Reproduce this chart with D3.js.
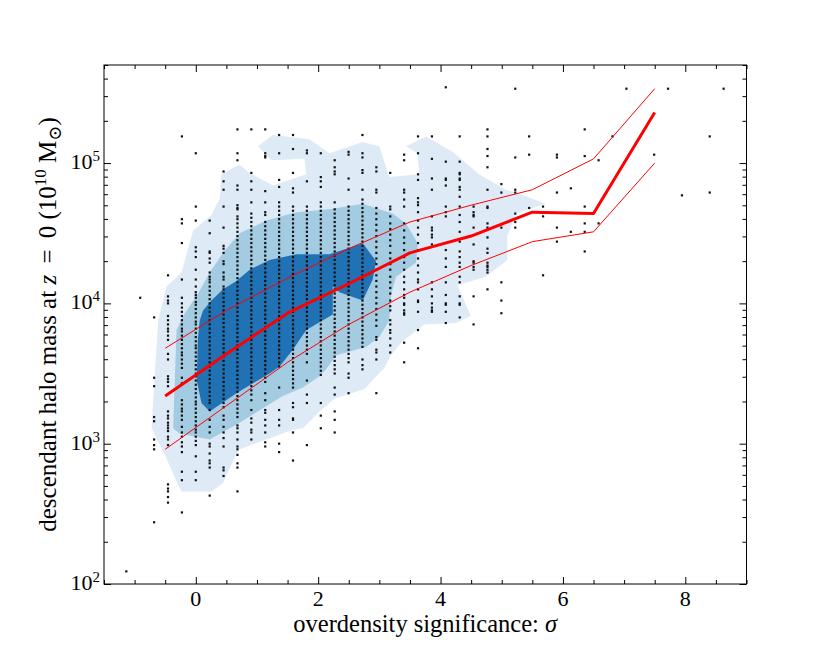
<!DOCTYPE html>
<html>
<head>
<meta charset="utf-8">
<script src="https://cdn.jsdelivr.net/npm/d3@7"></script>
<style>
    body { margin: 0; background: #fff; }
    text { font-family: "Liberation Serif", "DejaVu Serif", serif; fill: #000; }
</style>
</head>
<body>
<div id="chart"></div>
<script>
const CHART_WIDTH = 830;
const CHART_HEIGHT = 650;
const PLOT = { left: 104, right: 746.5, top: 65, bottom: 584 };

// x position of each column of haloes (overdensity significance)
const scatterSigma = [
    -1.135, -0.908, -0.681, -0.454, -0.227, 0, 0.227, 0.454, 0.681, 0.908,
    1.135, 1.362, 1.589, 1.816, 2.043, 2.270, 2.497, 2.724, 2.951, 3.178,
    3.405, 3.632, 3.859, 4.086, 4.313, 4.540, 4.767, 4.994, 5.221, 5.448,
    5.675, 5.902, 6.129, 6.356, 6.583, 6.810, 7.037, 7.491, 7.718, 7.945,
    8.399, 8.626
];

// log10 descendant mass (1e10 Msun) of the haloes in each column
const scatterLogMass = [
    [2.09],
    [4.04],
    [3.90, 3.47, 3.41, 3.19, 3.16, 3.03, 2.99, 2.96, 2.44],
    [4.20, 4.05, 4.02, 4.00, 3.91, 3.88, 3.85, 3.82, 3.80, 3.77, 3.74, 3.64, 3.60, 3.48, 3.46, 3.44, 3.41,
     3.23, 3.20, 3.18, 3.15, 3.13, 3.11, 3.09, 3.05, 3.03, 2.99, 2.71, 2.68, 2.66, 2.62, 2.58],
    [5.19, 4.60, 4.57, 4.43, 4.17, 4.04, 4.00, 3.97, 3.94, 3.91, 3.88, 3.85, 3.82, 3.80, 3.77, 3.74, 3.71,
     3.68, 3.65, 3.63, 3.60, 3.57, 3.54, 3.47, 3.43, 3.31, 3.28, 3.25, 3.23, 3.20, 3.17, 3.12, 3.08, 3.05,
     3.01, 2.98, 2.94, 2.80, 2.74, 2.51],
    [5.07, 4.69, 4.59, 4.40, 4.37, 4.33, 4.24, 4.17, 4.12, 4.08, 4.06, 4.04, 4.01, 3.99, 3.96, 3.93, 3.90,
     3.87, 3.85, 3.82, 3.79, 3.76, 3.73, 3.70, 3.68, 3.65, 3.62, 3.59, 3.56, 3.53, 3.50, 3.48, 3.45, 3.42,
     3.39, 3.36, 3.33, 3.30, 3.28, 3.25, 3.22, 3.19, 3.16, 3.13, 3.10, 3.08, 3.05, 3.02, 2.99, 2.91, 2.80, 2.74],
    [4.59, 4.50, 4.37, 4.36, 4.32, 4.29, 4.22, 4.19, 4.17, 4.15, 4.12, 4.09, 4.06, 4.03, 4.00, 3.97, 3.94,
     3.91, 3.88, 3.85, 3.82, 3.79, 3.76, 3.73, 3.70, 3.67, 3.64, 3.61, 3.58, 3.55, 3.52, 3.49, 3.46, 3.43,
     3.40, 3.37, 3.34, 3.31, 3.29, 3.24, 3.17, 3.12, 3.08, 3.00, 2.98, 2.93, 2.88, 2.86, 2.83, 2.63],
    [4.94, 4.87, 4.81, 4.69, 4.54, 4.41, 4.39, 4.36, 4.30, 4.28, 4.22, 4.19, 4.17, 4.12, 4.10, 4.07, 4.04,
     4.01, 3.98, 3.95, 3.92, 3.89, 3.86, 3.83, 3.80, 3.77, 3.74, 3.71, 3.68, 3.65, 3.62, 3.59, 3.56, 3.53,
     3.50, 3.47, 3.44, 3.41, 3.38, 3.35, 3.32, 3.29, 3.26, 3.20, 3.17, 3.12, 3.08, 3.04, 2.98, 2.83, 2.81, 2.77],
    [5.24, 5.07, 5.02, 4.84, 4.81, 4.70, 4.68, 4.67, 4.62, 4.60, 4.57, 4.54, 4.51, 4.48, 4.45, 4.42, 4.39,
     4.36, 4.33, 4.30, 4.27, 4.24, 4.21, 4.18, 4.15, 4.12, 4.09, 4.06, 4.03, 4.00, 3.97, 3.94, 3.91, 3.88,
     3.85, 3.82, 3.79, 3.76, 3.73, 3.70, 3.67, 3.64, 3.61, 3.58, 3.55, 3.52, 3.49, 3.46, 3.43, 3.40, 3.37,
     3.34, 3.31, 3.28, 3.25, 3.22, 3.19, 3.13, 3.11, 3.08, 3.03, 2.98, 2.96, 2.92, 2.86, 2.83, 2.66],
    [5.24, 4.93, 4.87, 4.81, 4.72, 4.64, 4.61, 4.58, 4.55, 4.52, 4.49, 4.46, 4.43, 4.40, 4.37, 4.34, 4.31,
     4.28, 4.25, 4.22, 4.19, 4.16, 4.13, 4.10, 4.07, 4.04, 4.01, 3.98, 3.95, 3.92, 3.89, 3.86, 3.83, 3.80,
     3.77, 3.74, 3.71, 3.68, 3.65, 3.62, 3.59, 3.56, 3.53, 3.50, 3.47, 3.44, 3.41, 3.38, 3.35, 3.31, 3.24,
     3.18, 3.15, 3.10, 3.08, 3.03],
    [5.24, 5.07, 5.05, 5.04, 4.80, 4.72, 4.65, 4.63, 4.58, 4.55, 4.52, 4.49, 4.46, 4.43, 4.40, 4.37, 4.34,
     4.31, 4.28, 4.25, 4.22, 4.19, 4.16, 4.13, 4.10, 4.07, 4.04, 4.01, 3.98, 3.95, 3.92, 3.89, 3.86, 3.83,
     3.80, 3.77, 3.74, 3.71, 3.68, 3.65, 3.62, 3.59, 3.56, 3.53, 3.50, 3.47, 3.44, 3.36, 3.31, 3.24, 3.22,
     3.17, 3.13, 3.08, 3.01, 2.98],
    [5.20, 5.07, 4.88, 4.83, 4.72, 4.69, 4.66, 4.63, 4.60, 4.57, 4.54, 4.51, 4.48, 4.45, 4.42, 4.39, 4.36,
     4.33, 4.30, 4.27, 4.24, 4.21, 4.18, 4.15, 4.12, 4.09, 4.06, 4.03, 4.00, 3.97, 3.94, 3.91, 3.88, 3.85,
     3.82, 3.79, 3.76, 3.73, 3.70, 3.67, 3.64, 3.61, 3.58, 3.55, 3.40, 3.24, 3.17, 3.13, 3.00, 2.94],
    [5.20, 5.10, 4.93, 4.82, 4.79, 4.69, 4.66, 4.63, 4.60, 4.57, 4.54, 4.51, 4.48, 4.45, 4.42, 4.39, 4.36,
     4.33, 4.30, 4.27, 4.24, 4.21, 4.18, 4.15, 4.12, 4.09, 4.06, 4.03, 4.00, 3.97, 3.94, 3.91, 3.88, 3.85,
     3.82, 3.79, 3.76, 3.73, 3.70, 3.67, 3.64, 3.61, 3.58, 3.55, 3.52, 3.49, 3.46, 3.43, 3.40, 3.29, 3.26,
     3.18, 3.17, 3.08, 2.88],
    [5.09, 5.07, 4.87, 4.69, 4.66, 4.63, 4.60, 4.57, 4.54, 4.51, 4.48, 4.45, 4.42, 4.39, 4.36, 4.33, 4.30,
     4.27, 4.24, 4.21, 4.18, 4.15, 4.12, 4.09, 4.06, 4.03, 4.00, 3.97, 3.94, 3.91, 3.88, 3.85, 3.82, 3.79,
     3.76, 3.73, 3.70, 3.67, 3.64, 3.58, 3.45, 3.35, 3.29, 2.99],
    [5.07, 4.90, 4.87, 4.83, 4.72, 4.69, 4.66, 4.63, 4.60, 4.57, 4.54, 4.51, 4.48, 4.45, 4.42, 4.39, 4.36,
     4.33, 4.30, 4.27, 4.24, 4.21, 4.18, 4.15, 4.12, 4.09, 4.06, 4.03, 4.00, 3.97, 3.94, 3.91, 3.88, 3.85,
     3.82, 3.79, 3.76, 3.73, 3.70, 3.67, 3.64, 3.61, 3.58, 3.55, 3.52, 3.49, 3.29, 3.20, 3.11],
    [5.02, 4.97, 4.94, 4.92, 4.72, 4.67, 4.64, 4.61, 4.58, 4.55, 4.52, 4.49, 4.46, 4.43, 4.40, 4.37, 4.34,
     4.31, 4.28, 4.25, 4.22, 4.19, 4.16, 4.13, 4.10, 4.07, 4.04, 4.01, 3.98, 3.95, 3.92, 3.89, 3.86, 3.83,
     3.80, 3.77, 3.74, 3.71, 3.68, 3.65, 3.62, 3.59, 3.56, 3.53, 3.50, 3.40, 3.35, 3.23, 3.17, 3.08],
    [5.08, 5.06, 4.89, 4.81, 4.69, 4.66, 4.63, 4.60, 4.57, 4.54, 4.51, 4.48, 4.45, 4.42, 4.39, 4.36, 4.33,
     4.30, 4.27, 4.24, 4.21, 4.18, 4.15, 4.12, 4.09, 4.06, 4.03, 4.00, 3.97, 3.94, 3.91, 3.88, 3.85, 3.82,
     3.79, 3.76, 3.73, 3.70, 3.67, 3.64, 3.61, 3.58, 3.50, 3.47, 3.36],
    [5.20, 5.07, 5.04, 4.95, 4.93, 4.81, 4.74, 4.71, 4.68, 4.65, 4.62, 4.59, 4.56, 4.53, 4.50, 4.47, 4.44,
     4.41, 4.38, 4.35, 4.32, 4.29, 4.26, 4.23, 4.20, 4.17, 4.14, 4.11, 4.08, 4.05, 4.02, 3.99, 3.96, 3.93,
     3.90, 3.87, 3.84, 3.81, 3.78, 3.75, 3.72, 3.69, 3.60, 3.56, 3.53],
    [4.97, 4.94, 4.81, 4.79, 4.68, 4.64, 4.60, 4.56, 4.52, 4.48, 4.44, 4.40, 4.36, 4.32, 4.28, 4.24, 4.20,
     4.16, 4.12, 4.08, 4.04, 4.00, 3.96, 3.92, 3.88, 3.84, 3.76, 3.74, 3.67, 3.65, 3.60, 3.36],
    [4.93, 4.69, 4.67, 4.62, 4.57, 4.53, 4.49, 4.45, 4.41, 4.36, 4.32, 4.28, 4.24, 4.19, 4.15, 4.11, 4.07,
     4.02, 3.98, 3.95, 3.88, 3.85, 3.81, 3.79, 3.75, 3.70, 3.65],
    [5.06, 5.02, 4.81, 4.79, 4.74, 4.69, 4.57, 4.52, 4.47, 4.43, 4.38, 4.33, 4.29, 4.24, 4.19, 4.15, 4.10,
     4.06, 4.04, 4.00, 3.99, 3.95, 3.93, 3.92, 3.72, 3.58],
    [5.19, 5.07, 4.92, 4.88, 4.75, 4.72, 4.70, 4.65, 4.59, 4.54, 4.49, 4.43, 4.38, 4.32, 4.27, 4.22, 4.17,
     4.15, 4.10, 4.02, 4.01, 3.94, 3.81, 3.68],
    [5.19, 5.03, 4.89, 4.81, 4.62, 4.54, 4.52, 4.49, 4.47, 4.42, 4.15, 4.10, 4.05, 4.00, 3.97, 3.95, 3.94],
    [5.54, 5.01, 4.89, 4.88, 4.84, 4.69, 4.65, 4.62, 4.38, 4.32, 4.26, 4.15, 4.06, 4.00, 3.99, 3.94, 3.86],
    [5.19, 5.01, 4.93, 4.92, 4.89, 4.88, 4.83, 4.81, 4.76, 4.69, 4.63, 4.58, 4.51, 4.44, 4.37, 4.33, 4.29,
     4.26, 4.19, 4.15, 4.05, 4.00, 3.99, 3.90],
    [4.69, 4.65, 4.63, 4.62, 4.54, 4.42, 4.30, 4.29, 4.26, 4.24, 4.05, 3.85],
    [5.24, 5.19, 5.10, 5.05, 4.97, 4.81, 4.69, 4.68, 4.57, 4.54, 4.47, 4.39, 4.36, 4.29, 4.27, 4.26, 4.24,
     4.22, 4.10],
    [4.85, 4.79, 4.54, 4.15, 4.02, 3.93],
    [5.53, 5.04, 4.81, 4.79, 4.64, 4.58, 4.54],
    [5.19, 5.06, 4.68],
    [4.69, 4.62, 4.20],
    [5.06, 5.04, 4.79, 4.54, 4.44],
    [4.82, 4.51],
    [5.24, 5.05, 4.69, 4.57, 4.51, 4.37],
    [5.02, 4.57],
    [5.19],
    [5.53],
    [5.06],
    [5.53],
    [4.77],
    [5.19, 4.79],
    [5.53]
];

// binned statistics of log10 mass
const binSigma = [-0.5, 0.5, 1.5, 2.5, 3.5, 4.5, 5.5, 6.5, 7.5];
const medianLogMass = [3.34, 3.64, 3.93, 4.14, 4.36, 4.48, 4.65, 4.64, 5.36];
const upperLogMass = [3.68, 3.95, 4.18, 4.39, 4.58, 4.70, 4.81, 5.03, 5.53];
const lowerLogMass = [2.96, 3.27, 3.58, 3.85, 4.08, 4.27, 4.44, 4.51, 5.00];

// density contour outlines, [sigma, log10 mass]
const contourOuter = [
    [-0.615, 3.88], [-0.478, 4.12], [-0.233, 4.22], [-0.044, 4.52], [0.256, 4.63], [0.391, 4.75],
    [0.419, 4.92], [0.717, 4.99], [0.880, 4.93], [1.260, 4.84], [1.805, 4.92], [1.777, 5.03],
    [1.234, 5.02], [1.016, 5.12], [1.260, 5.20], [1.859, 5.17], [2.185, 5.07], [2.728, 5.15],
    [3.000, 5.12], [3.163, 4.90], [3.652, 4.92], [3.620, 5.07], [3.436, 5.12], [3.762, 5.19],
    [4.195, 5.08], [4.631, 4.92], [5.066, 4.81], [5.229, 4.79], [5.718, 4.71], [5.229, 4.64],
    [5.092, 4.48], [5.092, 4.31], [4.740, 4.19], [4.277, 4.13], [4.495, 3.91], [4.251, 3.86],
    [3.734, 3.85], [3.380, 3.73], [3.191, 3.63], [3.082, 3.54], [2.756, 3.39], [2.266, 3.32],
    [2.022, 3.23], [1.750, 3.11], [1.586, 3.10], [0.717, 2.96], [0.664, 2.93], [0.445, 2.72],
    [0.256, 2.66], [-0.233, 2.66], [-0.315, 2.73], [-0.505, 2.92], [-0.722, 3.11], [-0.696, 3.31]
];
const contourMiddle = [
    [-0.315, 3.81], [-0.207, 3.91], [0.038, 4.07], [0.228, 4.22], [0.445, 4.36], [0.717, 4.50],
    [1.153, 4.59], [1.642, 4.65], [2.185, 4.67], [2.728, 4.71], [3.217, 4.64], [3.436, 4.57],
    [3.599, 4.45], [3.625, 4.42], [3.599, 4.29], [3.272, 4.19], [3.191, 4.06], [3.163, 3.88],
    [3.000, 3.76], [2.783, 3.69], [2.294, 3.63], [2.131, 3.53], [2.022, 3.48], [1.750, 3.40],
    [1.423, 3.34], [0.717, 3.15], [0.228, 3.03], [-0.261, 3.07], [-0.370, 3.11]
];
const contourInner = [
    [0.065, 3.88], [0.119, 3.95], [0.256, 4.02], [0.445, 4.10], [0.664, 4.16], [0.880, 4.24],
    [1.207, 4.31], [1.642, 4.35], [2.185, 4.35], [2.674, 4.42], [2.728, 4.43], [2.946, 4.30],
    [2.891, 4.17], [2.728, 4.02], [2.348, 4.08], [2.239, 4.12], [2.239, 3.92], [1.805, 3.81],
    [1.586, 3.67], [1.370, 3.55], [1.207, 3.50], [0.664, 3.36], [0.228, 3.23], [0.093, 3.29],
    [0.016, 3.45], [0.033, 3.74]
];

const xMajorTicks = [0, 2, 4, 6, 8];
const xTickLabels = ['0', '2', '4', '6', '8'];
const yMajorTicks = [1e2, 1e3, 1e4, 1e5];
const yTickExponents = ['2', '3', '4', '5'];

// Create SVG Element
const svg = d3.select('#chart')
    .append('svg')
    .attr('width', CHART_WIDTH)
    .attr('height', CHART_HEIGHT);

// Create Scales
const xScale = d3.scaleLinear()
    .domain([-1.5, 9])
    .range([PLOT.left, PLOT.right]);

const yScale = d3.scaleLog()
    .domain([1e2, 5e5])
    .range([PLOT.bottom, PLOT.top]);

svg.append('clipPath')
    .attr('id', 'plot-clip')
    .append('rect')
    .attr('x', PLOT.left)
    .attr('y', PLOT.top)
    .attr('width', PLOT.right - PLOT.left)
    .attr('height', PLOT.bottom - PLOT.top);

const plot = svg.append('g').attr('clip-path', 'url(#plot-clip)');

// Contours
const contourLine = d3.line()
    .x(d => xScale(d[0]))
    .y(d => yScale(Math.pow(10, d[1])))
    .curve(d3.curveLinearClosed);

[
    { pts: contourOuter, color: '#deebf7' },
    { pts: contourMiddle, color: '#a3cce2' },
    { pts: contourInner, color: '#2171b5' }
].forEach(c => {
    plot.append('path')
        .attr('d', contourLine(c.pts))
        .attr('fill', c.color);
});

// Scatter points
const points = [];
scatterSigma.forEach((s, i) => {
    scatterLogMass[i].forEach(v => points.push({ sigma: s, mass: Math.pow(10, v) }));
});

plot.selectAll('rect.pt')
    .data(points)
    .enter()
    .append('rect')
    .attr('class', 'pt')
    .attr('x', d => xScale(d.sigma) - 1.1)
    .attr('y', d => yScale(d.mass) - 1.1)
    .attr('width', 2.2)
    .attr('height', 2.2)
    .attr('fill', '#111');

// Median and percentile lines
const statLine = d3.line()
    .x((d, i) => xScale(binSigma[i]))
    .y(d => yScale(Math.pow(10, d)));

[
    { vals: lowerLogMass, w: 1 },
    { vals: upperLogMass, w: 1 },
    { vals: medianLogMass, w: 3 }
].forEach(l => {
    plot.append('path')
        .attr('d', statLine(l.vals))
        .attr('fill', 'none')
        .attr('stroke', '#ff0000')
        .attr('stroke-width', l.w)
        .attr('stroke-linejoin', 'round');
});

// Ticks
const xMinorTicks = d3.range(-1.5, 9.01, 0.5).filter(v => !xMajorTicks.includes(v));
const yMinorTicks = yScale.ticks().filter(v => !yMajorTicks.includes(v));

function addAxis(axis, transform) {
    const g = svg.append('g').attr('transform', transform).call(axis);
    g.select('.domain').remove();
    g.selectAll('line').attr('stroke', '#000').attr('stroke-width', 1);
    g.selectAll('text').remove();
}

const atBottom = 'translate(0,' + PLOT.bottom + ')';
const atTop = 'translate(0,' + PLOT.top + ')';
const atLeft = 'translate(' + PLOT.left + ',0)';
const atRight = 'translate(' + PLOT.right + ',0)';

addAxis(d3.axisBottom(xScale).tickValues(xMajorTicks).tickSize(-7), atBottom);
addAxis(d3.axisBottom(xScale).tickValues(xMinorTicks).tickSize(-4), atBottom);
addAxis(d3.axisTop(xScale).tickValues(xMajorTicks).tickSize(-7), atTop);
addAxis(d3.axisTop(xScale).tickValues(xMinorTicks).tickSize(-4), atTop);
addAxis(d3.axisLeft(yScale).tickValues(yMajorTicks).tickSize(-7), atLeft);
addAxis(d3.axisLeft(yScale).tickValues(yMinorTicks).tickSize(-4), atLeft);
addAxis(d3.axisRight(yScale).tickValues(yMajorTicks).tickSize(-7), atRight);
addAxis(d3.axisRight(yScale).tickValues(yMinorTicks).tickSize(-4), atRight);

// Frame
svg.append('rect')
    .attr('x', PLOT.left)
    .attr('y', PLOT.top)
    .attr('width', PLOT.right - PLOT.left)
    .attr('height', PLOT.bottom - PLOT.top)
    .attr('fill', 'none')
    .attr('stroke', '#000')
    .attr('stroke-width', 1);

// Tick labels
svg.selectAll('text.xtick')
    .data(xMajorTicks)
    .enter()
    .append('text')
    .attr('class', 'xtick')
    .attr('x', d => xScale(d))
    .attr('y', PLOT.bottom + 22)
    .attr('text-anchor', 'middle')
    .attr('font-size', 22)
    .text((d, i) => xTickLabels[i]);

const yLabels = svg.selectAll('text.ytick')
    .data(yMajorTicks)
    .enter()
    .append('text')
    .attr('class', 'ytick')
    .attr('x', PLOT.left - 4)
    .attr('y', d => yScale(d) + 6)
    .attr('text-anchor', 'end')
    .attr('font-size', 22);
yLabels.append('tspan').text('10');
yLabels.append('tspan')
    .attr('dy', -8)
    .attr('font-size', 15)
    .text((d, i) => yTickExponents[i]);

// Axis titles
const xTitle = svg.append('text')
    .attr('x', (PLOT.left + PLOT.right) / 2)
    .attr('y', 632)
    .attr('text-anchor', 'middle')
    .attr('font-size', 24.5);
xTitle.append('tspan').text('overdensity significance: ');
xTitle.append('tspan').attr('font-style', 'italic').text('σ');

const yTitle = svg.append('text')
    .attr('transform', 'translate(56,' + ((PLOT.top + PLOT.bottom) / 2) + ') rotate(-90)')
    .attr('text-anchor', 'middle')
    .attr('font-size', 25);
yTitle.append('tspan').text('descendant halo mass at ');
yTitle.append('tspan').attr('font-style', 'italic').text('z');
yTitle.append('tspan').text(' \u2009=\u2009 0 (10');
yTitle.append('tspan').attr('dy', -10).attr('font-size', 17).text('10');
yTitle.append('tspan').attr('dy', 10).text(' M');
yTitle.append('tspan').attr('dy', 5).attr('font-size', 18).text('⊙');
yTitle.append('tspan').attr('dy', -5).text(')');
</script>
</body>
</html>
